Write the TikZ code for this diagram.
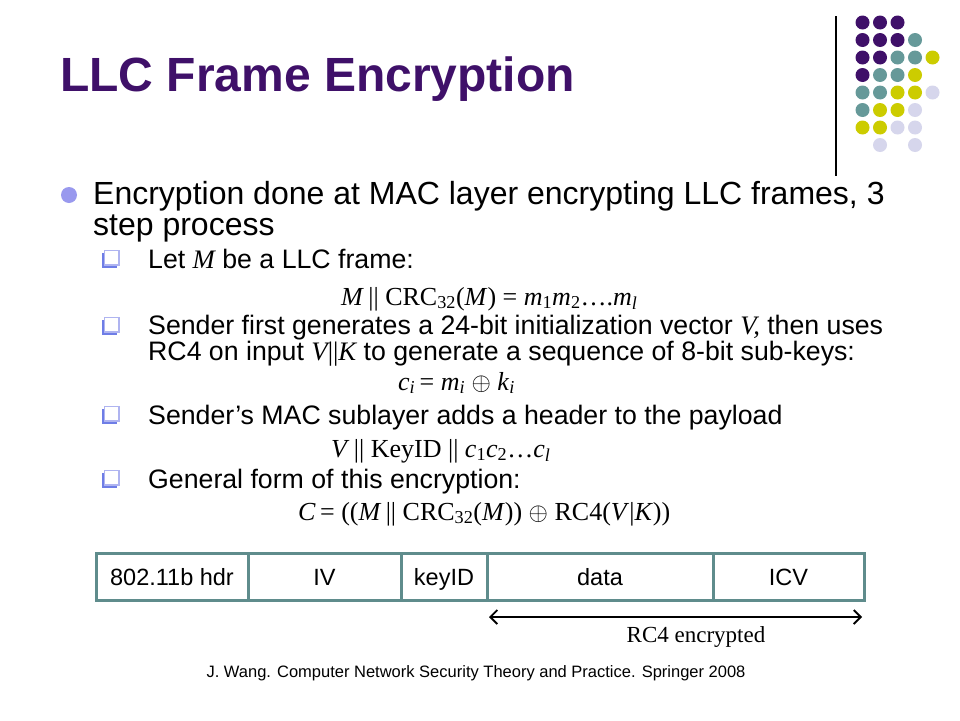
\documentclass[tikz,border=0pt]{standalone}
\usepackage{fontspec}
\setmainfont{Liberation Sans}
\newfontfamily\tnr{Liberation Serif}
\usetikzlibrary{arrows.meta}
\definecolor{dpurple}{RGB}{63,16,105}
\definecolor{dteal}{RGB}{102,153,153}
\definecolor{dyellow}{RGB}{204,204,0}
\definecolor{dlav}{RGB}{214,214,236}
\definecolor{bulletblue}{RGB}{153,153,238}
\definecolor{qdark}{RGB}{110,125,230}
\definecolor{qlight}{RGB}{175,180,240}
\definecolor{boxteal}{RGB}{95,140,140}
\tikzset{
  dotP/.style={fill=dpurple},
  dotT/.style={fill=dteal},
  dotY/.style={fill=dyellow},
  dotL/.style={fill=dlav},
  lvlone/.style={anchor=base west, inner sep=0pt, font=\fontsize{32}{32}\selectfont},
  lvltwo/.style={anchor=base west, inner sep=0pt, font=\fontsize{26.7}{26.7}\selectfont},
  formula/.style={anchor=base west, inner sep=0pt, font=\tnr\fontsize{26}{26}\selectfont},
  cell/.style={draw=boxteal, line width=3pt, minimum height=47pt, inner sep=0pt, text height=20pt, text depth=3pt, font=\fontsize{23.5}{23.5}\selectfont},
  qbox/.pic={
    \fill[qdark] (-8.5,-6) rectangle (6,8.5);
    \filldraw[fill=white, draw=qlight, line width=1.4pt] (-6,-8.5) rectangle (8.5,6);
  }
}
\begin{document}
\begin{tikzpicture}[x=1pt,y=-1pt]
\useasboundingbox (0,0) rectangle (960,720);
\fill[white] (0,0) rectangle (960,720);
% decoration dots
\draw[line width=1.5pt] (836,16) -- (836,176);
\foreach \c/\r/\k in {0/0/P,1/0/P,2/0/P,
  0/1/P,1/1/P,2/1/P,3/1/T,
  0/2/P,1/2/P,2/2/T,3/2/T,4/2/Y,
  0/3/P,1/3/T,2/3/T,3/3/Y,
  0/4/T,1/4/T,2/4/Y,3/4/Y,4/4/L,
  0/5/T,1/5/Y,2/5/Y,3/5/L,
  0/6/Y,1/6/Y,2/6/L,3/6/L,
  1/7/L,3/7/L}{
  \fill[dot\k] ({862.5+17.5*\c},{22.5+17.5*\r}) circle (7);
}
% title
\node[anchor=base west, inner sep=0pt, text=dpurple, font=\bfseries\fontsize{48}{48}\selectfont] (title) at (60,91) {LLC Frame Encryption};
% level 1
\fill[bulletblue] (69,195) circle (8);
\node[lvlone] (l1a) at (93,204) {Encryption done at MAC layer encrypting LLC frames, 3};
\node[lvlone] (l1b) at (93,235) {step process};
% level 2 items
\pic at (110.5,259) {qbox};
\node[lvltwo] (i1) at (148,268) {Let {\tnr\itshape M} be a LLC frame:};
\node[formula] (f1) at (341,305) {\textit{M}\,|| CRC\textsubscript{32}(\textit{M}) = \textit{m}\textsubscript{1}\textit{m}\textsubscript{2}….\textit{m}\textsubscript{\textit{l}}};
\pic at (110.5,326) {qbox};
\node[lvltwo] (i2a) at (148,334.5) {Sender first generates a 24-bit initialization vector {\tnr\itshape V,} then uses};
\node[lvltwo] (i2b) at (148,360) {RC4 on input {\tnr\itshape V}{\tnr ||}{\tnr\itshape K} to generate a sequence of 8-bit sub-keys:};
\node[formula] (f2) at (398,390) {\textit{c}\textsubscript{\textit{i}}\,= \textit{m}\textsubscript{\textit{i}} $\oplus$ \textit{k}\textsubscript{\textit{i}}};
\pic at (110.5,415) {qbox};
\node[lvltwo] (i3) at (148,424) {Sender’s MAC sublayer adds a header to the payload};
\node[formula] (f3) at (331,457) {\textit{V}\,|| KeyID || \textit{c}\textsubscript{1}\textit{c}\textsubscript{2}…\textit{c}\textsubscript{\textit{l}}};
\pic at (110.5,479) {qbox};
\node[lvltwo] (i4) at (148,488) {General form of this encryption:};
\node[formula] (f4) at (298,520) {\textit{C}\,= ((\textit{M}\,|| CRC\textsubscript{32}(\textit{M})) $\oplus$ RC4(\textit{V}|\textit{K}))};
% frame
\node[cell, minimum width=152pt] (c1) at (172,576.5) {802.11b hdr};
\node[cell, minimum width=153pt] (c2) at (324.5,576.5) {IV};
\node[cell, minimum width=86pt] (c3) at (444,576.5) {keyID};
\node[cell, minimum width=226pt] (c4) at (600,576.5) {data};
\node[cell, minimum width=151pt] (c5) at (788.5,576.5) {ICV};
\coordinate (a1) at (489,617);
\coordinate (a2) at (862,617);
\draw[line width=1.8pt, {Straight Barb[length=7pt,width=14pt]}-{Straight Barb[length=7pt,width=14pt]}] (a1) -- (a2);
\node[inner sep=0pt, font=\tnr\fontsize{23}{23}\selectfont] (rc4) at (696,637) {RC4 encrypted};
\node[inner sep=0pt, font=\fontsize{16.5}{16.5}\selectfont] (foot) at (476,673) {J. Wang. Computer Network Security Theory and Practice. Springer 2008};
\end{tikzpicture}
\end{document}
